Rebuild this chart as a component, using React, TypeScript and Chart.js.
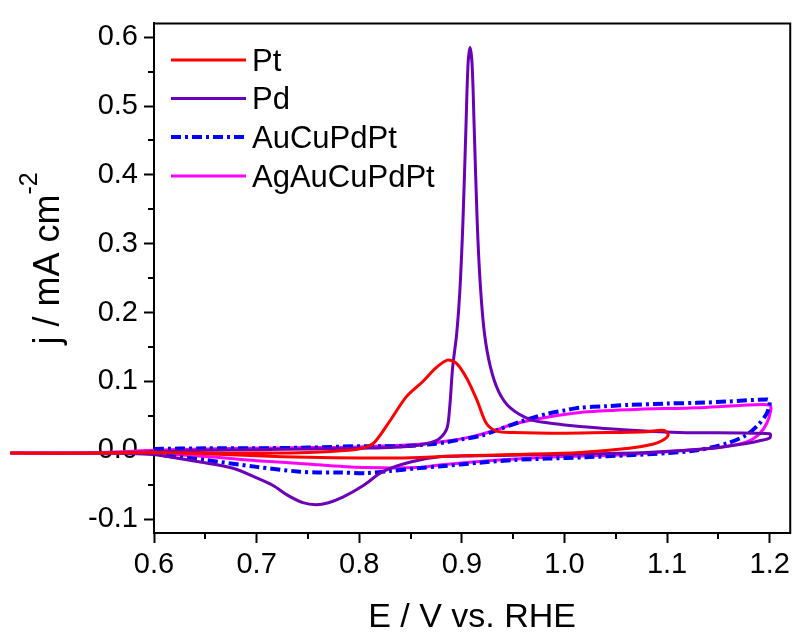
import React, { useEffect, useRef } from 'react';
import { Chart, registerables } from 'chart.js';

Chart.register(...registerables);

const FONT = "'Liberation Sans', Arial, sans-serif";

const seriesLabels = ['Pt', 'Pd', 'AuCuPdPt', 'AgAuCuPdPt'];
const seriesColors = ['#ff0000', '#6a00b8', '#0000ff', '#ff00ff'];

// Pt (forward then reverse scan)
const ptE = [0.46, 0.55, 0.6, 0.65, 0.7, 0.75, 0.79, 0.805, 0.815, 0.83, 0.846, 0.862, 0.875, 0.886, 0.895, 0.905, 0.915, 0.924, 0.934, 0.95, 1.0, 1.05, 1.08, 1.097,
  1.101, 1.095, 1.086, 1.063, 1.015, 0.95, 0.9, 0.84, 0.8, 0.75, 0.7, 0.65, 0.6, 0.55, 0.46];
const ptJ = [-0.004, -0.004, -0.003, -0.004, -0.004, -0.003, 0.0, 0.004, 0.012, 0.043, 0.078, 0.1, 0.12, 0.131, 0.126, 0.104, 0.072, 0.039, 0.028, 0.026, 0.025, 0.026, 0.027, 0.029,
  0.022, 0.014, 0.009, 0.003, -0.003, -0.006, -0.008, -0.011, -0.011, -0.01, -0.008, -0.005, -0.003, -0.004, -0.004];

// Pd
const pdE = [0.46, 0.55, 0.6, 0.65, 0.7, 0.75, 0.8, 0.85, 0.875, 0.885, 0.888, 0.891, 0.895, 0.898, 0.901, 0.904, 0.906, 0.908, 0.910, 0.912, 0.915, 0.918, 0.922, 0.928, 0.936, 0.947, 0.966, 0.983, 1.0, 1.047, 1.112, 1.2,
  1.2, 1.19, 1.177, 1.144, 1.08, 0.982, 0.917, 0.88, 0.85, 0.823, 0.804, 0.784, 0.77, 0.758, 0.745, 0.73, 0.716, 0.7, 0.677, 0.645, 0.613, 0.6, 0.55, 0.46];
const pdJ = [-0.004, -0.004, -0.002, 0.0, 0.001, 0.002, 0.003, 0.006, 0.014, 0.03, 0.06, 0.12, 0.17, 0.23, 0.33, 0.47, 0.56, 0.585, 0.56, 0.47, 0.33, 0.24, 0.17, 0.12, 0.085, 0.062, 0.045, 0.04, 0.037, 0.031, 0.026, 0.024,
  0.018, 0.014, 0.01, 0.003, -0.003, -0.006, -0.008, -0.009, -0.017, -0.031, -0.051, -0.068, -0.076, -0.079, -0.076, -0.065, -0.051, -0.04, -0.026, -0.017, -0.009, -0.006, -0.004, -0.004];

// AuCuPdPt
const aucuE = [0.6, 0.65, 0.7, 0.75, 0.8, 0.84, 0.87, 0.885, 0.9, 0.92, 0.937, 0.96, 0.983, 1.0, 1.015, 1.04, 1.063, 1.1, 1.129, 1.16, 1.197, 1.2,
  1.199, 1.197, 1.19, 1.177, 1.158, 1.129, 1.1, 1.063, 1.02, 0.983, 0.95, 0.917, 0.88, 0.856, 0.83, 0.807, 0.78, 0.759, 0.742, 0.7, 0.65, 0.613, 0.6];
const aucuJ = [0.002, 0.003, 0.003, 0.004, 0.006, 0.006, 0.009, 0.012, 0.016, 0.022, 0.031, 0.043, 0.053, 0.058, 0.062, 0.064, 0.066, 0.068, 0.069, 0.071, 0.074, 0.072,
  0.062, 0.053, 0.039, 0.022, 0.01, 0.0, -0.004, -0.007, -0.01, -0.012, -0.014, -0.018, -0.023, -0.026, -0.03, -0.033, -0.032, -0.032, -0.031, -0.024, -0.014, -0.008, -0.005];

// AgAuCuPdPt
const agE = [0.46, 0.55, 0.6, 0.65, 0.7, 0.75, 0.8, 0.85, 0.888, 0.91, 0.934, 0.95, 0.983, 1.015, 1.063, 1.129, 1.17, 1.2,
  1.201, 1.197, 1.19, 1.177, 1.144, 1.1, 1.063, 0.983, 0.917, 0.88, 0.856, 0.807, 0.759, 0.742, 0.7, 0.65, 0.6, 0.55, 0.46];
const agJ = [-0.004, -0.003, 0.0, 0.002, 0.003, 0.004, 0.005, 0.008, 0.014, 0.02, 0.03, 0.038, 0.048, 0.055, 0.059, 0.062, 0.065, 0.066,
  0.058, 0.039, 0.024, 0.012, 0.003, -0.002, -0.006, -0.01, -0.016, -0.021, -0.025, -0.025, -0.021, -0.019, -0.015, -0.009, -0.005, -0.004, -0.004];

const seriesE = [ptE, pdE, aucuE, agE];
const seriesJ = [ptJ, pdJ, aucuJ, agJ];
const seriesWidths = [3, 3, 4, 3];
const seriesDash = [[], [], [10, 4, 3, 4], []];

const xTicks = [0.6, 0.7, 0.8, 0.9, 1.0, 1.1, 1.2];
const xMinorTicks = [0.65, 0.75, 0.85, 0.95, 1.05, 1.15];
const yTicks = [-0.1, 0.0, 0.1, 0.2, 0.3, 0.4, 0.5, 0.6];
const yMinorTicks = [-0.05, 0.05, 0.15, 0.25, 0.35, 0.45, 0.55];

const xTitle = 'E / V vs. RHE';
const yTitleMain = 'j / mA cm';
const yTitleSup = '-2';

const decorPlugin = {
  id: 'decor',
  afterDraw(chart: any) {
    const { ctx, chartArea } = chart;
    const xs = chart.scales.x;
    const ys = chart.scales.y;
    ctx.save();
    ctx.strokeStyle = '#000';
    ctx.lineWidth = 2;
    ctx.setLineDash([]);
    // frame top & right
    ctx.beginPath();
    ctx.moveTo(chartArea.left, chartArea.top);
    ctx.lineTo(chartArea.right, chartArea.top);
    ctx.lineTo(chartArea.right, chartArea.bottom + 1);
    ctx.stroke();
    // minor ticks
    ctx.beginPath();
    for (const v of xMinorTicks) {
      const px = Math.round(xs.getPixelForValue(v));
      ctx.moveTo(px, chartArea.bottom);
      ctx.lineTo(px, chartArea.bottom + 6);
    }
    for (const v of yMinorTicks) {
      const py = Math.round(ys.getPixelForValue(v));
      ctx.moveTo(chartArea.left - 6, py);
      ctx.lineTo(chartArea.left, py);
    }
    ctx.stroke();

    // legend
    const rowLine = [60, 98.5, 137, 176];
    const rowBase = [70.7, 109.3, 148.3, 186.7];
    chart.data.datasets.forEach((ds: any, i: number) => {
      ctx.beginPath();
      ctx.strokeStyle = ds.borderColor;
      ctx.lineWidth = ds.borderWidth;
      ctx.setLineDash(ds.borderDash || []);
      ctx.moveTo(171, rowLine[i]);
      ctx.lineTo(246, rowLine[i]);
      ctx.stroke();
      ctx.setLineDash([]);
      ctx.fillStyle = '#000';
      ctx.font = `31px ${FONT}`;
      ctx.textAlign = 'left';
      ctx.textBaseline = 'alphabetic';
      ctx.fillText(ds.label, 252, rowBase[i]);
    });

    // x title
    ctx.fillStyle = '#000';
    ctx.font = `34px ${FONT}`;
    ctx.textAlign = 'center';
    ctx.textBaseline = 'alphabetic';
    ctx.fillText(xTitle, (chartArea.left + chartArea.right) / 2, 627);

    // y title
    ctx.font = `36px ${FONT}`;
    const w1 = ctx.measureText(yTitleMain).width;
    ctx.font = `25px ${FONT}`;
    const w2 = ctx.measureText(yTitleSup).width;
    const W = w1 + w2;
    ctx.translate(59, 258.5);
    ctx.rotate(-Math.PI / 2);
    ctx.textAlign = 'left';
    ctx.font = `36px ${FONT}`;
    ctx.fillText(yTitleMain, -W / 2, 0);
    ctx.font = `25px ${FONT}`;
    ctx.fillText(yTitleSup, -W / 2 + w1, -22);
    ctx.restore();
  },
};

export default function App() {
  const ref = useRef<HTMLCanvasElement | null>(null);
  useEffect(() => {
    if (!ref.current) return;
    const datasets = seriesLabels.map((label, i) => ({
      label,
      data: seriesE[i].map((e, k) => ({ x: e, y: seriesJ[i][k] })),
      showLine: true,
      borderColor: seriesColors[i],
      backgroundColor: seriesColors[i],
      borderWidth: seriesWidths[i],
      borderDash: seriesDash[i],
      pointRadius: 0,
      tension: 0.3,
      fill: false,
      clip: false as const,
    }));
    const chart = new Chart(ref.current, {
      type: 'scatter',
      data: { datasets },
      plugins: [decorPlugin],
      options: {
        animation: false,
        responsive: true,
        maintainAspectRatio: false,
        devicePixelRatio: 1,
        layout: { padding: { top: 19, right: 4, left: 0, bottom: 0 } },
        plugins: { legend: { display: false }, tooltip: { enabled: false } },
        scales: {
          x: {
            type: 'linear',
            min: 0.6,
            max: 1.22,
            afterBuildTicks: (s: any) => { s.ticks = xTicks.map((v) => ({ value: v })); },
            afterFit: (s: any) => { s.height = 99; },
            grid: { drawOnChartArea: false, drawTicks: true, tickLength: 10, tickWidth: 2, tickColor: '#000' },
            border: { display: true, width: 2, color: '#000' },
            ticks: {
              color: '#000',
              padding: 5,
              maxRotation: 0,
              autoSkip: false,
              font: { size: 29, family: FONT },
              callback: (v: any) => Number(v).toFixed(1),
            },
          },
          y: {
            type: 'linear',
            min: -0.12,
            max: 0.62,
            afterBuildTicks: (s: any) => { s.ticks = yTicks.map((v) => ({ value: v })); },
            afterFit: (s: any) => { s.width = 154; },
            grid: { drawOnChartArea: false, drawTicks: true, tickLength: 10, tickWidth: 2, tickColor: '#000' },
            border: { display: true, width: 2, color: '#000' },
            ticks: {
              color: '#000',
              padding: 6,
              autoSkip: false,
              font: { size: 29, family: FONT },
              callback: (v: any) => Number(v).toFixed(1),
            },
          },
        },
      },
    });
    return () => chart.destroy();
  }, []);
  return (
    <div style={{ position: 'absolute', left: 0, top: 0, width: 795, height: 632, background: '#fff' }}>
      <canvas ref={ref} />
    </div>
  );
}
